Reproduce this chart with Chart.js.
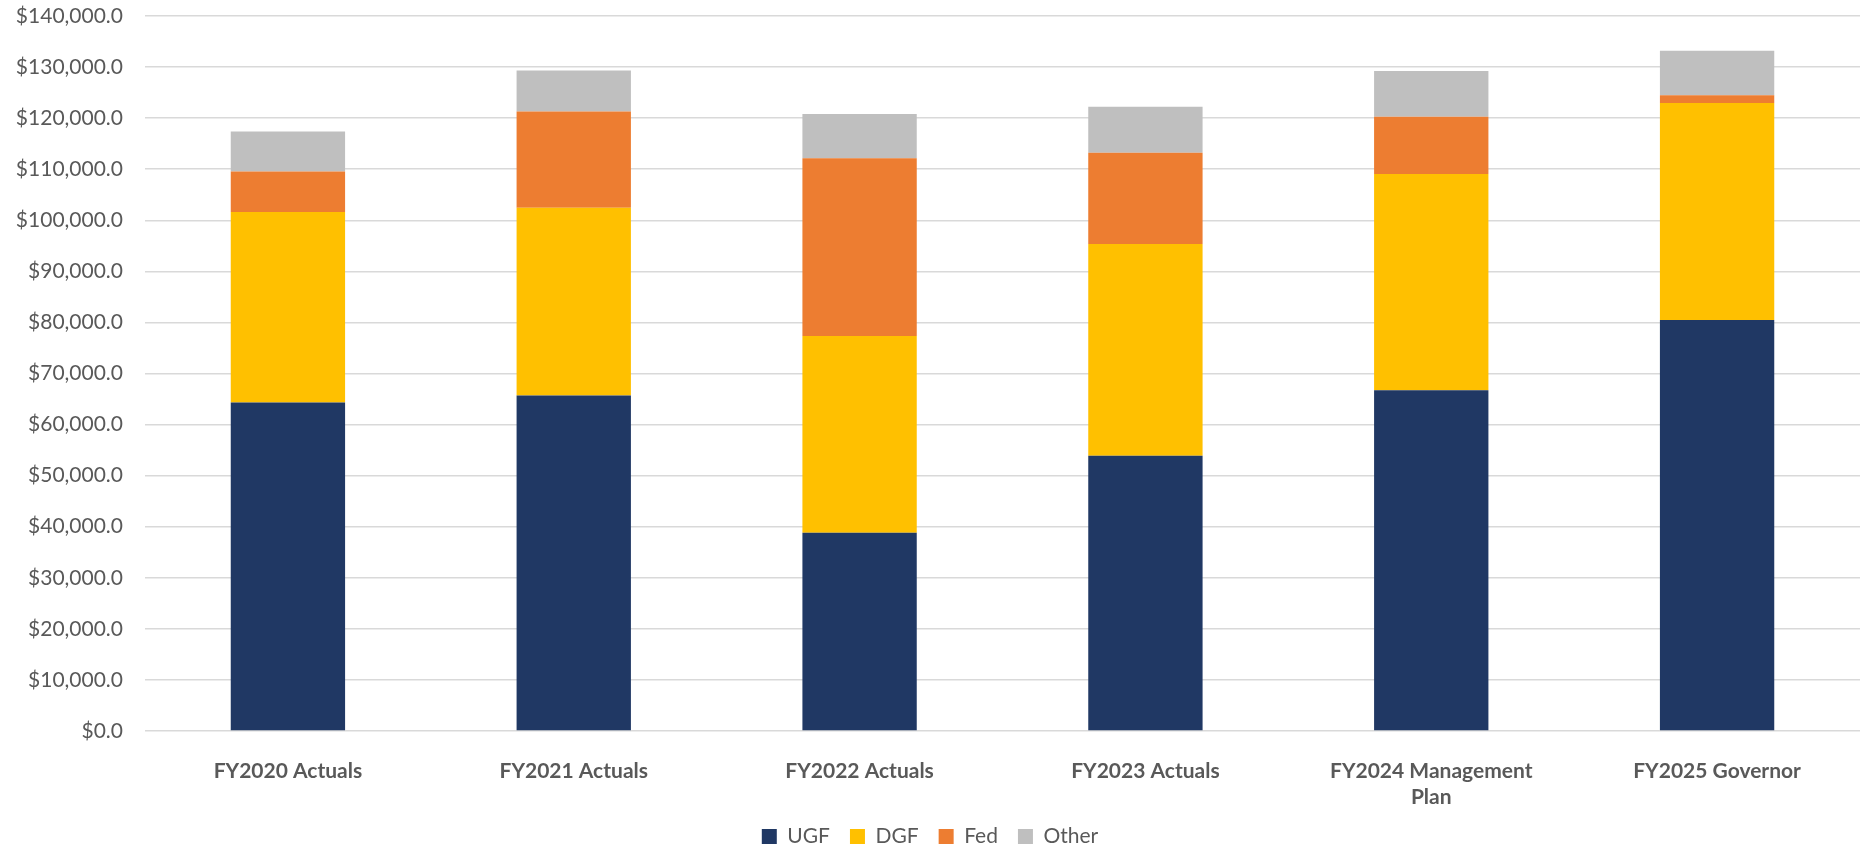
<!DOCTYPE html>
<html>
<head>
<meta charset="utf-8">
<script src="https://cdn.jsdelivr.net/npm/chart.js@4.4.0/dist/chart.umd.min.js"></script>
<style>
  html, body { margin: 0; padding: 0; background: #fff; }
  #wrap { width: 1862px; height: 848px; }
</style>
</head>
<body>
<div id="wrap"><canvas id="chart"></canvas></div>
<script>
// categories and series (thousands of $)
const categories = ['FY2020 Actuals', 'FY2021 Actuals', 'FY2022 Actuals', 'FY2023 Actuals', ['FY2024 Management', 'Plan'], 'FY2025 Governor'];
const ugf   = [64300, 65700, 38800, 53900, 66700, 80480];
const dgf   = [37300, 36750, 38550, 41450, 42360, 42490];
const fed   = [7950, 18870, 34800, 17880, 11220, 1500];
const other = [7830, 8000, 8670, 9010, 8940, 8740];

const yMax = 140000;
const yStep = 10000;

const fmt = v => '$' + Number(v).toLocaleString('en-US', { minimumFractionDigits: 1, maximumFractionDigits: 1 });

const ds = (label, data, color) => ({
    label: label,
    data: data,
    backgroundColor: color,
    borderWidth: 0,
    categoryPercentage: 1,
    barPercentage: 0.4
});

new Chart(document.getElementById('chart'), {
    type: 'bar',
    data: {
        labels: categories,
        datasets: [
            ds('UGF', ugf, '#203864'),
            ds('DGF', dgf, '#FFC000'),
            ds('Fed', fed, '#ED7D31'),
            ds('Other', other, '#BFBFBF')
        ]
    },
    options: {
        responsive: true,
        maintainAspectRatio: false,
        animation: false,
        layout: { padding: { top: 16, right: 2, left: 0, bottom: -9 } },
        scales: {
            x: {
                stacked: true,
                grid: { display: false },
                border: { display: false },
                ticks: { color: '#595959', padding: 20, font: { family: 'Lato', size: 21, weight: 'bold' }, maxRotation: 0 },
                afterFit: scale => { scale.height = 75; }
            },
            y: {
                stacked: true,
                min: 0,
                max: yMax,
                border: { display: false },
                grid: { color: '#d9d9d9', lineWidth: 1.5, drawTicks: false },
                ticks: { stepSize: yStep, color: '#595959', padding: 22, font: { family: 'Lato', size: 21 }, callback: v => fmt(v) },
                afterFit: scale => { scale.width = 145; scale.paddingTop = 0; scale.paddingBottom = 0; }
            }
        },
        plugins: {
            legend: {
                position: 'bottom',
                labels: { color: '#595959', boxWidth: 15, boxHeight: 15, padding: 20, font: { family: 'Lato', size: 21 } }
            },
            tooltip: { enabled: false }
        }
    }
});
</script>
</body>
</html>
